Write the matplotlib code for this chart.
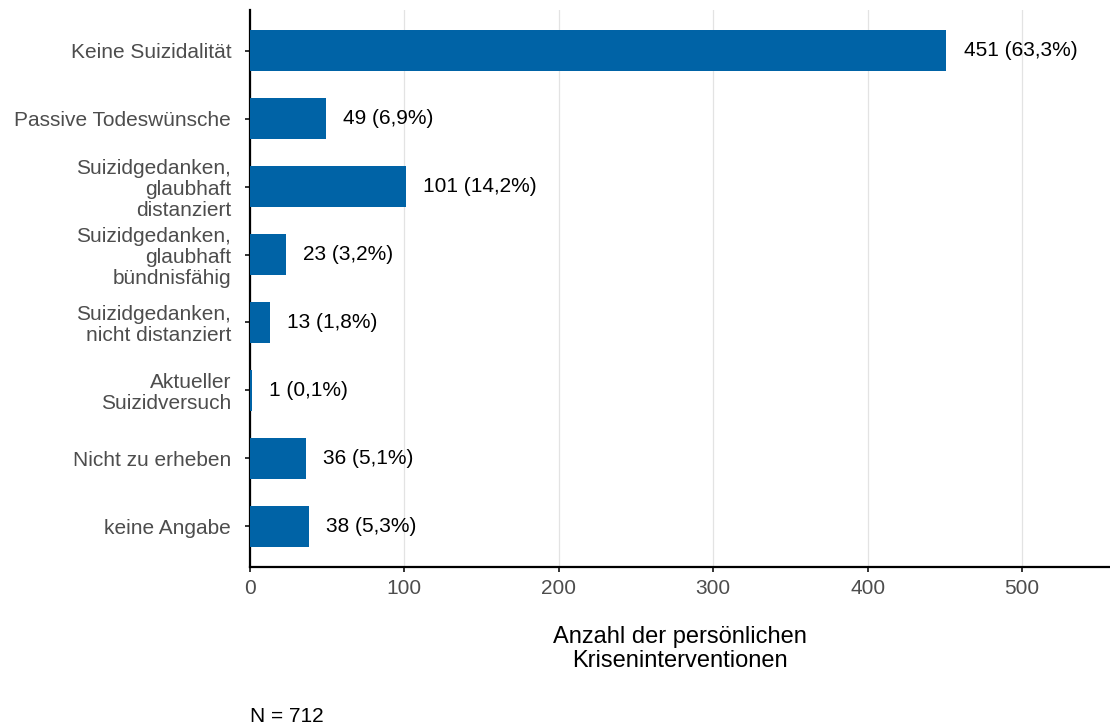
import matplotlib
matplotlib.use("Agg")
import matplotlib.pyplot as plt

categories = ["Keine Suizidalität", "Passive Todeswünsche",
              "Suizidgedanken,\nglaubhaft\ndistanziert",
              "Suizidgedanken,\nglaubhaft\nbündnisfähig",
              "Suizidgedanken,\nnicht distanziert",
              "Aktueller\nSuizidversuch",
              "Nicht zu erheben", "keine Angabe"]
counts = [451, 49, 101, 23, 13, 1, 36, 38]
percents = ["63,3", "6,9", "14,2", "3,2", "1,8", "0,1", "5,1", "5,3"]
xticks = [0, 100, 200, 300, 400, 500]

plt.rcParams['font.family'] = ['Liberation Sans', 'DejaVu Sans']

fig = plt.figure(figsize=(11.1, 7.27), dpi=100)
ax = fig.add_axes([250/1110, 1-567/727, (1110-250)/1110, (567-10)/727])

ypos = list(range(len(categories)))
ax.barh(ypos, counts, height=0.6, color="#0063A6", zorder=3)
for y, c, p in zip(ypos, counts, percents):
    ax.annotate(f"{c} ({p}%)", xy=(c, y), xytext=(12.5, 0), textcoords="offset points",
                ha="left", va="center", fontsize=15, color="black")

ax.set_ylim(len(categories) - 1 + 0.6, -0.6)
ax.set_xlim(0, 557)
ax.set_yticks(ypos)
ax.set_yticklabels(categories, fontsize=15, color="#4D4D4D", ha="right",
                   multialignment="right", linespacing=1.12)
ax.set_xticks(xticks)
ax.set_xticklabels([str(t) for t in xticks], fontsize=15, color="#4D4D4D")
ax.grid(axis="x", color="#E3E3E3", linewidth=0.9, zorder=0)
ax.set_axisbelow(True)
for s in ["top", "right"]:
    ax.spines[s].set_visible(False)
for s in ["left", "bottom"]:
    ax.spines[s].set_linewidth(1.6)
    ax.spines[s].set_color("black")
ax.tick_params(axis="y", length=3.5, width=1.4, color="#333333", pad=10)
ax.tick_params(axis="x", length=3.5, width=1.4, color="#333333", pad=5)
ax.set_xlabel("Anzahl der persönlichen\nKriseninterventionen", fontsize=17, labelpad=20, linespacing=1.15)
fig.text(250/1110, 1-716/727, "N = 712", fontsize=15, ha="left", va="center")

fig.savefig("out.png", dpi=100)
